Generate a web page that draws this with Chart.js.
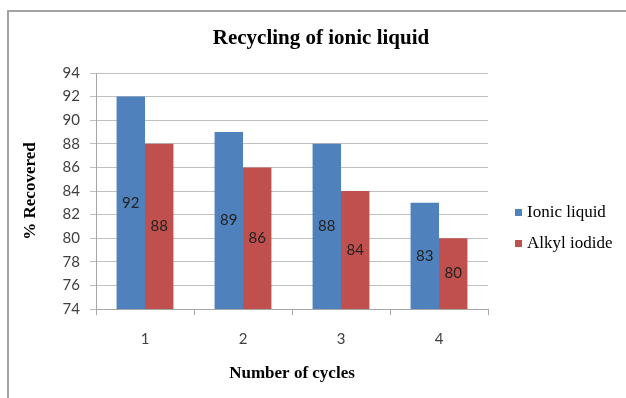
<!DOCTYPE html>
<html>
<head>
<meta charset="utf-8">
<script src="https://cdn.jsdelivr.net/npm/chart.js@4/dist/chart.umd.min.js"></script>
<style>
  html, body { margin: 0; padding: 0; background: #fff; }
  #frame {
    position: absolute; left: 7px; top: 10px; width: 619px; height: 388px;
    border-top: 2px solid #a3a3a3; border-left: 2px solid #a3a3a3;
  }
  #chart { position: absolute; left: 0; top: 0; }
</style>
</head>
<body>
<div id="frame"></div>
<canvas id="chart" width="626" height="398"></canvas>
<script>
// Recovery per cycle
const cycles = ['1', '2', '3', '4'];
const ionicLiquid = [92, 89, 88, 83];
const alkylIodide = [88, 86, 84, 80];
const seriesNames = ['Ionic liquid', 'Alkyl iodide'];
const seriesColors = ['#4F81BD', '#C0504D'];
const chartTitle = 'Recycling of ionic liquid';
const yMin = 74;
const yMax = 94;
const yStep = 2;

const SERIF = "'Liberation Serif', 'Times New Roman', serif";
const SANS = "Lato, 'Noto Sans', sans-serif";

// Value written halfway between the bar top and the axis
const barLabels = {
  id: 'barLabels',
  afterDraw(chart) {
    const ctx = chart.ctx;
    const yScale = chart.scales.y;
    const bottom = chart.chartArea.bottom;
    ctx.save();
    ctx.font = '15px ' + SANS;
    ctx.fillStyle = '#222';
    ctx.textAlign = 'center';
    ctx.textBaseline = 'middle';
    chart.data.datasets.forEach((ds, i) => {
      chart.getDatasetMeta(i).data.forEach((bar, j) => {
        const top = yScale.getPixelForValue(ds.data[j]);
        ctx.fillText(String(ds.data[j]), bar.x, (top + bottom) / 2);
      });
    });
    ctx.restore();
  }
};

// Title centred over the whole frame, legend on the right
const frameText = {
  id: 'frameText',
  afterDraw(chart) {
    const ctx = chart.ctx;
    ctx.save();
    ctx.fillStyle = '#000';
    ctx.textAlign = 'center';
    ctx.textBaseline = 'middle';
    ctx.font = 'bold 21px ' + SERIF;
    ctx.fillText(chartTitle, 321, 39);

    ctx.font = '17px ' + SERIF;
    ctx.textAlign = 'left';
    chart.data.datasets.forEach((ds, i) => {
      const y = 213 + i * 31;
      ctx.fillStyle = ds.backgroundColor;
      ctx.fillRect(515, y - 4, 7, 7);
      ctx.fillStyle = '#000';
      ctx.fillText(ds.label, 527, y);
    });
    ctx.restore();
  }
};

new Chart(document.getElementById('chart'), {
  type: 'bar',
  data: {
    labels: cycles,
    datasets: [
      { label: seriesNames[0], data: ionicLiquid, backgroundColor: seriesColors[0] },
      { label: seriesNames[1], data: alkylIodide, backgroundColor: seriesColors[1] }
    ]
  },
  options: {
    responsive: false,
    animation: false,
    layout: { padding: { left: 14, right: 138, top: 73, bottom: 14 } },
    datasets: {
      bar: { categoryPercentage: 0.58, barPercentage: 1.0, borderWidth: 0 }
    },
    plugins: {
      legend: { display: false },
      tooltip: { enabled: false },
      title: { display: false }
    },
    scales: {
      x: {
        afterFit: (scale) => { scale.height = 75; },
        grid: { drawOnChartArea: false, drawTicks: true, tickLength: 6, offset: true, color: '#a6a6a6' },
        border: { display: true, color: '#a6a6a6' },
        ticks: { color: '#404040', font: { family: SANS, size: 15 }, padding: 15 },
        title: {
          display: true,
          text: 'Number of cycles',
          color: '#000',
          font: { family: SERIF, size: 17, weight: 'bold' },
          padding: { top: 0, bottom: 0 }
        }
      },
      y: {
        min: yMin,
        max: yMax,
        afterFit: (scale) => { scale.width = 82; },
        grid: { color: '#c0c0c0', tickLength: 6 },
        border: { display: true, color: '#a6a6a6' },
        ticks: { stepSize: yStep, color: '#404040', font: { family: SANS, size: 15 }, padding: 10 },
        title: {
          display: true,
          text: '% Recovered',
          color: '#000',
          font: { family: SERIF, size: 17, weight: 'bold' },
          padding: { top: 6, bottom: 0 }
        }
      }
    }
  },
  plugins: [barLabels, frameText]
});
</script>
</body>
</html>
